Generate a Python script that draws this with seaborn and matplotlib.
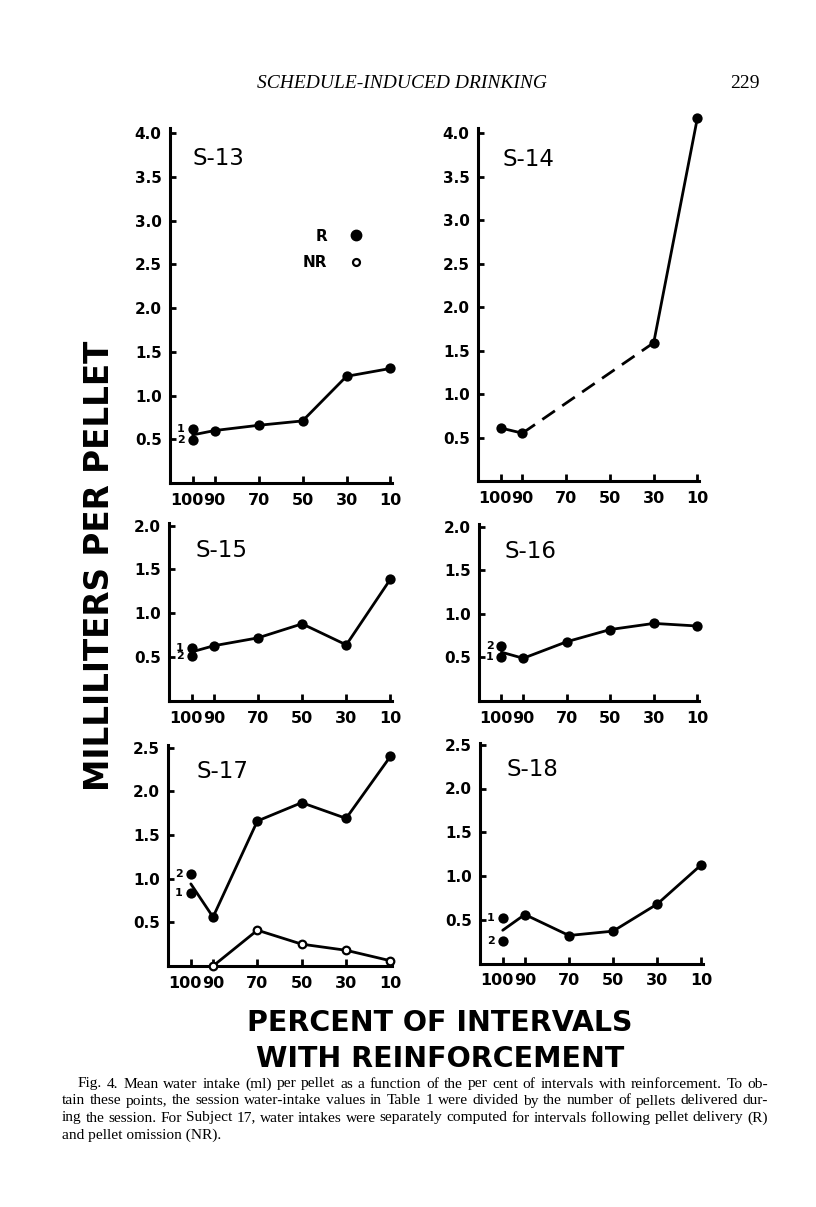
import matplotlib
matplotlib.use("Agg")
import matplotlib.pyplot as plt
import matplotlib.transforms as mtransforms
from matplotlib.lines import Line2D
from matplotlib.ticker import FormatStrFormatter
import seaborn as sns

# percent of intervals with reinforcement (x axis runs 100 -> 10)
PCT = [100, 90, 70, 50, 30, 10]

# first value of each R line = where the line starts at 100 (between sessions 1 and 2)
S13_R = [0.55, 0.60, 0.66, 0.71, 1.22, 1.31]
S13_FIRST = [0.62, 0.49]
S13_FIRST_LBL = ["1", "2"]

S14_PCT = [100, 90, 30, 10]
S14_R = [0.61, 0.55, 1.59, 4.18]
S14_SEG_STYLE = ["solid", "dashed", "solid"]

S15_R = [0.56, 0.63, 0.72, 0.88, 0.64, 1.39]
S15_FIRST = [0.60, 0.51]
S15_FIRST_LBL = ["1", "2"]

S16_R = [0.56, 0.49, 0.68, 0.82, 0.89, 0.86]
S16_FIRST = [0.63, 0.50]
S16_FIRST_LBL = ["2", "1"]

S17_R = [0.94, 0.56, 1.66, 1.87, 1.69, 2.40]
S17_FIRST = [1.05, 0.84]
S17_FIRST_LBL = ["2", "1"]
S17_NR_PCT = [90, 70, 50, 30, 10]
S17_NR = [0.0, 0.41, 0.25, 0.18, 0.06]

S18_R = [0.38, 0.56, 0.32, 0.37, 0.68, 1.13]
S18_FIRST = [0.52, 0.26]
S18_FIRST_LBL = ["1", "2"]

YTICKS_40 = [0.5, 1.0, 1.5, 2.0, 2.5, 3.0, 3.5, 4.0]
YTICKS_20 = [0.5, 1.0, 1.5, 2.0]
YTICKS_25 = [0.5, 1.0, 1.5, 2.0, 2.5]

CAPTION = [
    "Fig. 4. Mean water intake (ml) per pellet as a function of the per cent of intervals with reinforcement. To ob-",
    "tain these points, the session water-intake values in Table 1 were divided by the number of pellets delivered dur-",
    "ing the session. For Subject 17, water intakes were separately computed for intervals following pellet delivery (R)",
    "and pellet omission (NR).",
]

sns.set_style("ticks")
plt.rcParams["font.family"] = ["DejaVu Sans"]
plt.rcParams["font.weight"] = "bold"
for key in ("text.color", "axes.labelcolor", "xtick.color", "ytick.color", "axes.edgecolor"):
    plt.rcParams[key] = "black"

LW = 2.0
DOT = 55
W, H = 816, 1207


def px_rect(left, right, bottom, top):
    return [left / W, 1 - bottom / H, (right - left) / W, (bottom - top) / H]


def style_axes(ax, ytop, yticks):
    ax.set_xlim(110.3, 9.3)
    ax.set_ylim(0, ytop)
    ax.set_xticks(PCT)
    ax.set_xticklabels([str(p) for p in PCT])
    ax.set_yticks(yticks)
    ax.yaxis.set_major_formatter(FormatStrFormatter("%.1f"))
    sns.despine(ax=ax)
    for s in ("left", "bottom"):
        ax.spines[s].set_linewidth(2.2)
    ax.tick_params(axis="x", direction="in", length=5, width=2, pad=7, labelsize=11.5)
    ax.tick_params(axis="y", direction="in", length=4, width=2, pad=6, labelsize=11)
    # the "100" label sits a little left of its tick, as in the original
    lab = ax.get_xticklabels()[0]
    lab.set_transform(lab.get_transform() + mtransforms.ScaledTranslation(-6 / 100, 0, fig.dpi_scale_trans))
    ax.set_xlabel("")
    ax.set_ylabel("")
    ax.set_facecolor("none")


def draw_r(ax, vals, first, labels):
    sns.lineplot(x=PCT, y=vals, ax=ax, color="black", lw=LW, sort=False, estimator=None, clip_on=False)
    sns.scatterplot(x=PCT[1:], y=vals[1:], ax=ax, color="black", s=DOT, linewidth=0,
                    zorder=4, clip_on=False, legend=False)
    sns.scatterplot(x=[100] * len(first), y=first, ax=ax, color="black", s=DOT, linewidth=0,
                    zorder=4, clip_on=False, legend=False)
    for v, lbl in zip(first, labels):
        ax.annotate(lbl, xy=(100, v), xytext=(-8.5, 0), textcoords="offset points",
                    ha="center", va="center", fontsize=8, fontweight="bold")


fig = plt.figure(figsize=(W / 100, H / 100), dpi=100)
fig.patch.set_facecolor("white")

# S-13
ax = fig.add_axes(px_rect(170, 392, 483, 128))
draw_r(ax, S13_R, S13_FIRST, S13_FIRST_LBL)
style_axes(ax, 4.06, YTICKS_40)
ax.text(0.10, 0.913, "S-13", transform=ax.transAxes, fontsize=16.5, fontweight="normal", va="center")
handles = [Line2D([], [], ls="none", marker="o", ms=7.5, color="black"),
           Line2D([], [], ls="none", marker="o", ms=5, mfc="white", mec="black", mew=1.6)]
ax.legend(handles, ["R", "NR"], loc="upper right", bbox_to_anchor=(0.872, 0.716), frameon=False,
          markerfirst=False, handlelength=1.0, handletextpad=1.4, labelspacing=0.75,
          borderpad=0, borderaxespad=0, prop={"weight": "bold", "size": 11})

# S-14: solid / dashed / solid segments
ax = fig.add_axes(px_rect(478, 699, 481, 128))
for i, ls in enumerate(S14_SEG_STYLE):
    style = "-" if ls == "solid" else (0, (5.5, 3.2))
    sns.lineplot(x=S14_PCT[i:i + 2], y=S14_R[i:i + 2], ax=ax, color="black", lw=LW,
                 linestyle=style, sort=False, estimator=None, clip_on=False)
sns.scatterplot(x=S14_PCT, y=S14_R, ax=ax, color="black", s=DOT, linewidth=0,
                zorder=4, clip_on=False, legend=False)
style_axes(ax, 4.06, YTICKS_40)
ax.text(0.113, 0.912, "S-14", transform=ax.transAxes, fontsize=16.5, fontweight="normal", va="center")

# S-15
ax = fig.add_axes(px_rect(169, 392, 701, 523))
draw_r(ax, S15_R, S15_FIRST, S15_FIRST_LBL)
style_axes(ax, 2.03, YTICKS_20)
ax.text(0.117, 0.843, "S-15", transform=ax.transAxes, fontsize=16.5, fontweight="normal", va="center")

# S-16
ax = fig.add_axes(px_rect(479, 699, 701, 524))
draw_r(ax, S16_R, S16_FIRST, S16_FIRST_LBL)
style_axes(ax, 2.03, YTICKS_20)
ax.text(0.118, 0.842, "S-16", transform=ax.transAxes, fontsize=16.5, fontweight="normal", va="center")

# S-17: R and NR
ax = fig.add_axes(px_rect(168, 392, 966, 745))
draw_r(ax, S17_R, S17_FIRST, S17_FIRST_LBL)
sns.lineplot(x=S17_NR_PCT, y=S17_NR, ax=ax, color="black", lw=LW, sort=False, estimator=None, clip_on=False)
sns.scatterplot(x=S17_NR_PCT, y=S17_NR, ax=ax, color="white", edgecolor="black", linewidth=1.6,
                s=30, zorder=5, clip_on=False, legend=False)
style_axes(ax, 2.53, YTICKS_25)
ax.text(0.128, 0.882, "S-17", transform=ax.transAxes, fontsize=16.5, fontweight="normal", va="center")

# S-18
ax = fig.add_axes(px_rect(480, 703, 963.5, 743))
draw_r(ax, S18_R, S18_FIRST, S18_FIRST_LBL)
style_axes(ax, 2.52, YTICKS_25)
ax.text(0.12, 0.878, "S-18", transform=ax.transAxes, fontsize=16.5, fontweight="normal", va="center")

# page header
fig.text(402 / W, 1 - 84 / H, "SCHEDULE-INDUCED DRINKING", ha="center", va="center",
         family="Liberation Serif", style="italic", fontsize=14, fontweight="normal")
fig.text(760 / W, 1 - 84 / H, "229", ha="right", va="center",
         family="Liberation Serif", fontsize=14, fontweight="normal")

# shared axis labels
fig.text(100 / W, 1 - 566 / H, "MILLILITERS PER PELLET", rotation=90, ha="center", va="center",
         fontsize=23.5, fontweight="bold")
fig.text(440 / W, 1 - 1041 / H, "PERCENT OF INTERVALS\nWITH REINFORCEMENT", ha="center", va="center",
         multialignment="center", linespacing=1.4, fontsize=20.5, fontweight="bold")

# caption, justified word by word between x0 and the right margin
renderer = fig.canvas.get_renderer()
cap_kw = dict(ha="left", va="center", family="Liberation Serif", fontsize=11.1, fontweight="normal")
RIGHT = 768
for i, line in enumerate(CAPTION):
    x0 = 78 if i == 0 else 62
    y = 1 - (1084 + 17 * i) / H
    if i == len(CAPTION) - 1:
        fig.text(x0 / W, y, line, **cap_kw)
        continue
    words = line.split(" ")
    texts = [fig.text(0, y, w, **cap_kw) for w in words]
    widths = [t.get_window_extent(renderer).width for t in texts]
    gap = (RIGHT - x0 - sum(widths)) / (len(words) - 1)
    x = x0
    for t, w in zip(texts, widths):
        t.set_x(x / W)
        x += w + gap

fig.savefig("out.png", dpi=100)
